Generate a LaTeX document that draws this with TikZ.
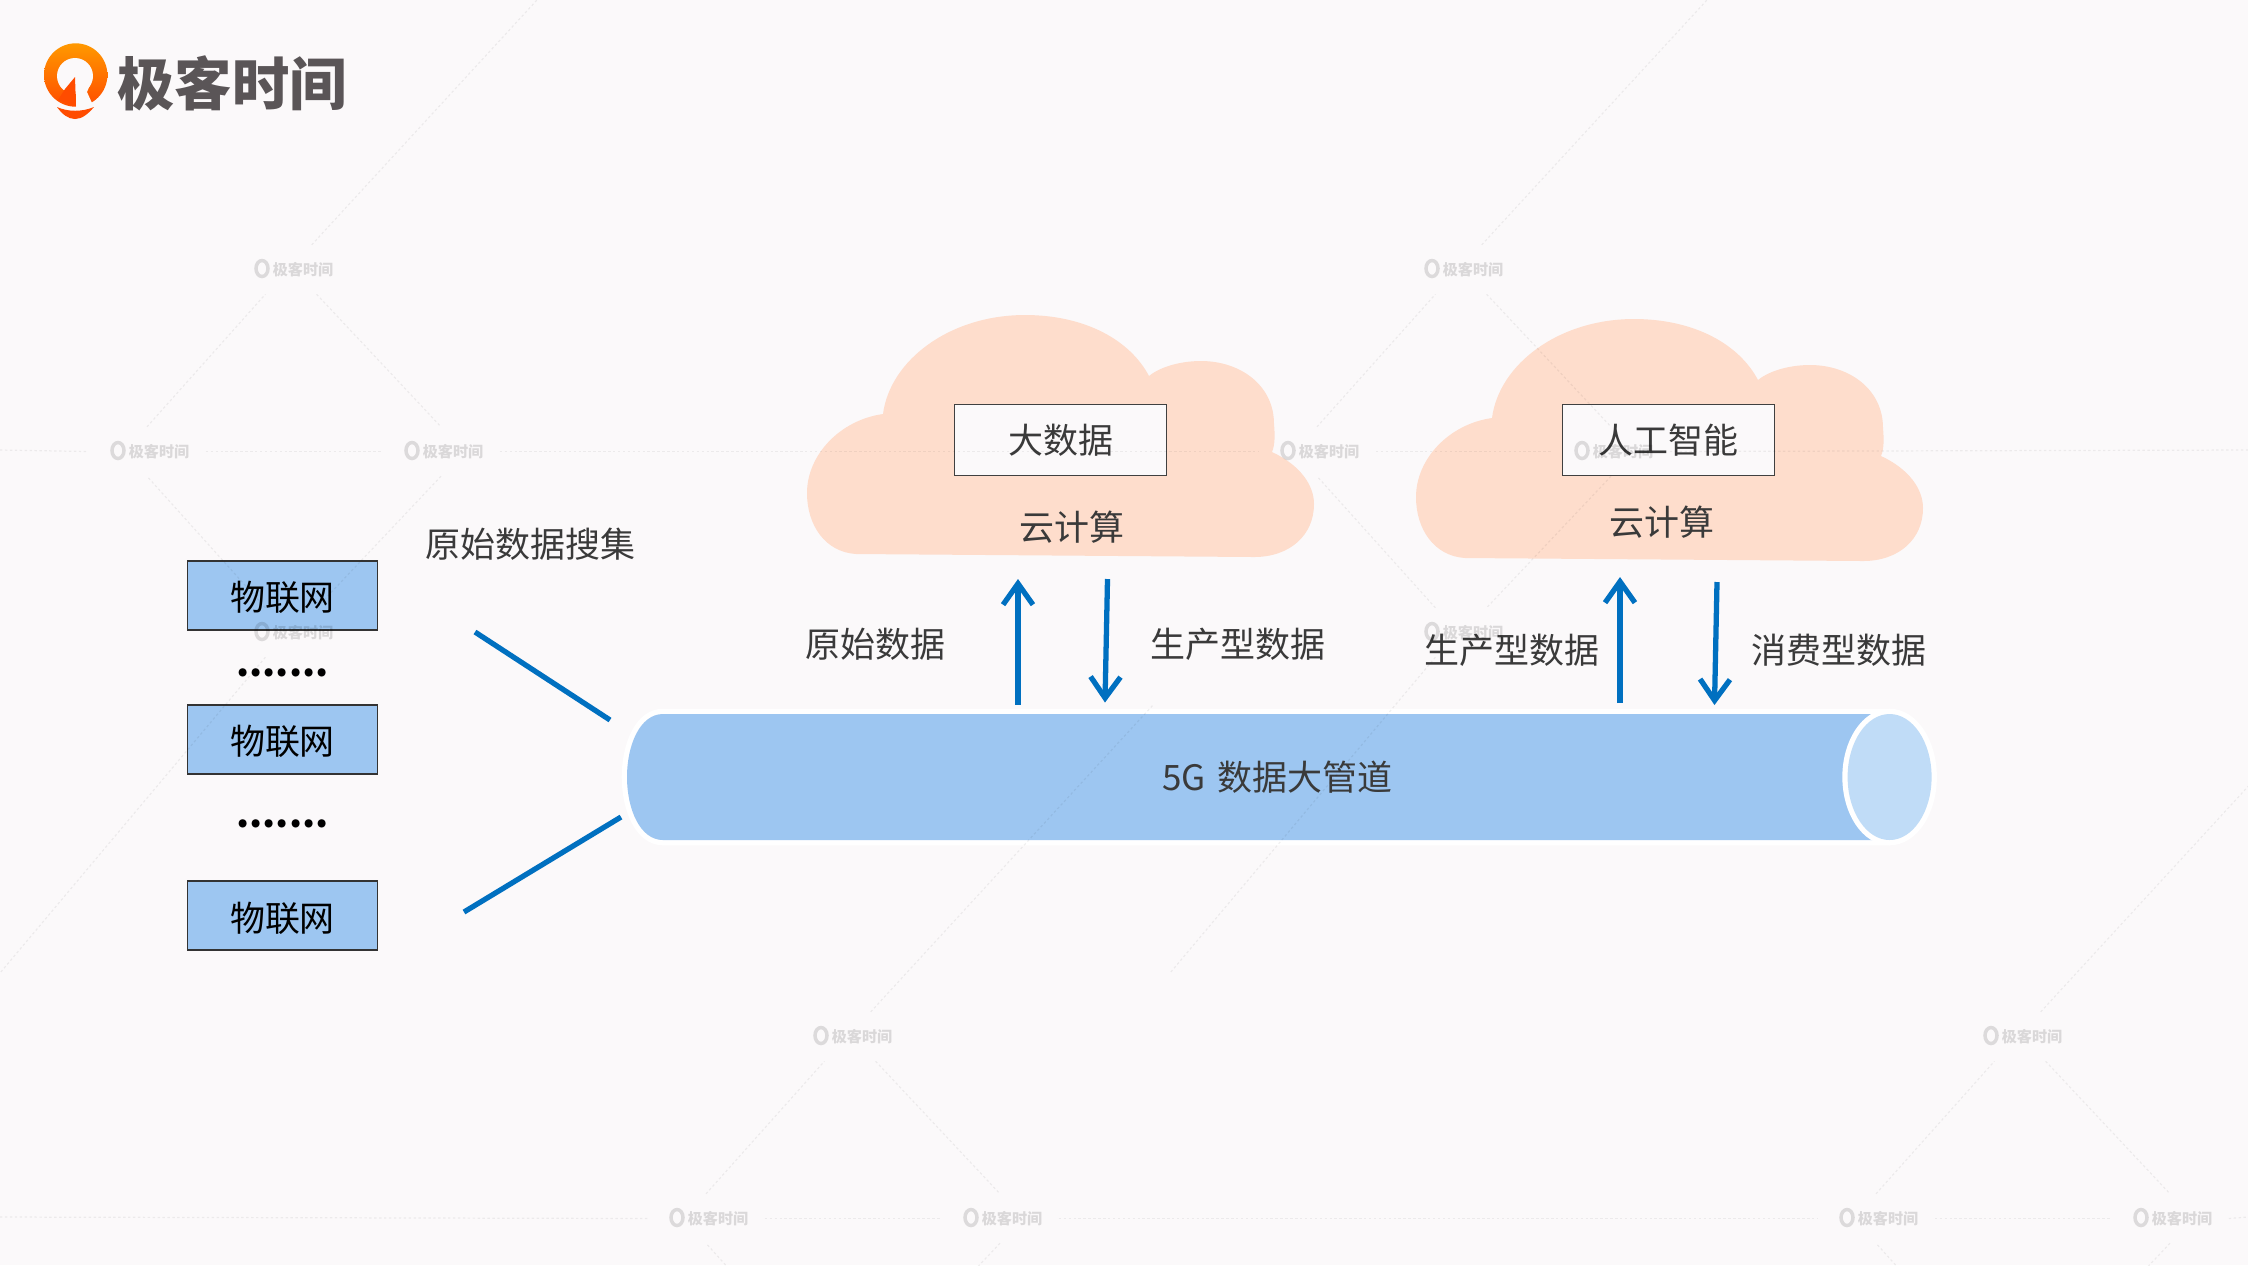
\documentclass[tikz,border=0pt]{standalone}
\usepackage{fontspec}
\setmainfont{Noto Sans CJK SC}
\usetikzlibrary{arrows.meta}
\definecolor{pagebg}{HTML}{FBF9FA}
\definecolor{tubeblue}{HTML}{9DC6F1}
\definecolor{tubeend}{HTML}{C0DCF7}
\definecolor{cloudfill}{HTML}{FEDDCC}
\definecolor{arrowblue}{HTML}{0070C0}
\definecolor{labelgray}{HTML}{3A3A3A}
\definecolor{logogray}{HTML}{5A5557}
\tikzset{
  lab/.style={text=labelgray,font=\fontsize{9.95}{10}\selectfont,inner sep=0pt},
  iotbox/.style={draw=black!80,line width=.4pt,fill=tubeblue,text=black,minimum width=1.9cm,minimum height=.69cm,inner sep=0pt,text height=10pt,text depth=1.2pt,font=\fontsize{9.95}{10}\selectfont},
  cloudbox/.style={draw=black!75,line width=.4pt,fill=pagebg,text=labelgray,minimum width=2.12cm,minimum height=.71cm,inner sep=0pt,font=\fontsize{9.95}{10}\selectfont},
  dotrow/.style={text=black,inner sep=0pt,anchor=base,font=\fontsize{10.7}{12}\selectfont\rmfamily\bfseries},
  tubeskin/.style={preaction={draw=white,line width=3pt}},
  flow/.style={arrowblue,line width=1.5pt},
  flowtip/.style={flow,-{Straight Barb[length=6pt,width=8.5pt]}},
  wmark/.style={text=black,text opacity=.13,minimum width=1.16cm,minimum height=.48cm,inner sep=0pt,font=\fontsize{4.3}{5}\selectfont\bfseries},
  wmline/.style={black,opacity=.06,line width=.35pt,dash pattern=on .7pt off .7pt},
  wmring/.style={black,opacity=.12,line width=1pt},
  cloudshape/.pic={
    \fill[cloudfill] (856,554) .. controls (825,552) and (807,525) .. (807,493)
      .. controls (807,455) and (840,420) .. (883,414)
      .. controls (890,360) and (950,315) .. (1025,315)
      .. controls (1085,315) and (1130,340) .. (1149,376)
      .. controls (1160,367) and (1180,361) .. (1201,361)
      .. controls (1240,361) and (1274,385) .. (1274,424)
      .. controls (1275,435) and (1275,445) .. (1272,452)
      .. controls (1300,465) and (1314,485) .. (1314,504)
      .. controls (1314,535) and (1290,557) .. (1254,557) -- cycle;
  }
}
\begin{document}
\begin{tikzpicture}[x=.01cm,y=-.01cm]
\useasboundingbox (0,0) rectangle (2248,1265);
\fill[pagebg] (0,0) rectangle (2248,1265);

\shade[top color=orange!80!yellow,bottom color=orange!60!red,shading angle=0] (75.7,75) circle[radius=31.7];
\fill[pagebg] (75,76) circle[radius=18];
\fill[pagebg] (76,77) -- (76,110) -- (86,110) -- (92,103) -- (87,92) -- (92,80) -- cycle;
\fill[orange!60!red] (65,89) -- (75,77) -- (76,106) -- (58,100) -- cycle;
\fill[orange!60!red] (57,107) .. controls (68,112) and (82,112) .. (94,107) .. controls (88,114) and (82,119) .. (75,119) .. controls (68,119) and (62,114) .. (57,107) -- cycle;
\node[text=logogray,inner sep=0pt,font=\fontsize{16.3}{17}\selectfont\bfseries] (brand) at (232,83) {极客时间};

\pic at (0,0) {cloudshape};
\pic at (609,4) {cloudshape};
\node[cloudbox] (bigdata) at (1060.5,440) {大数据};
\node[cloudbox] (aibox) at (1668.5,440) {人工智能};
\node[lab] (cloudone) at (1071.6,527.6) {云计算};
\node[lab] (cloudtwo) at (1662,522) {云计算};

\node[iotbox] (iot1) at (282.5,595.5) {物联网};
\node[iotbox] (iot2) at (282.5,739.5) {物联网};
\node[iotbox] (iot3) at (282.5,915.5) {物联网};
\node[dotrow] (dots1) at (282.5,676) {.......};
\node[dotrow] (dots2) at (282.5,827) {.......};
\node[lab] (collect) at (530.6,544) {原始数据搜集};

\fill[tubeblue,tubeskin] (663,714) -- (1885,714) -- (1885,840) -- (663,840)
  .. controls (640,840) and (627,809) .. (627,777) .. controls (627,745) and (640,714) .. (663,714) -- cycle;
\fill[tubeend,tubeskin] (1889.6,777) ellipse[x radius=42,y radius=63];
\node[lab] (pipe) at (1277.4,777) {5G\hspace{3.5pt}数据大管道};

\coordinate (in1a) at (475,632);
\coordinate (in1b) at (610,720);
\coordinate (in2a) at (464,912);
\coordinate (in2b) at (621,817);
\draw[flow] (in1a) -- (in1b);
\draw[flow] (in2a) -- (in2b);

\coordinate (up1a) at (1018,704.5);
\coordinate (up1b) at (1018,579);
\coordinate (dn1a) at (1107.5,579);
\coordinate (dn1b) at (1105,702.5);
\coordinate (up2a) at (1620,703);
\coordinate (up2b) at (1620,577);
\coordinate (dn2a) at (1717,582);
\coordinate (dn2b) at (1714.5,705);
\draw[flowtip] (up1a) -- (up1b);
\draw[flowtip] (dn1a) -- (dn1b);
\draw[flowtip] (up2a) -- (up2b);
\draw[flowtip] (dn2a) -- (dn2b);
\node[lab] (raw) at (875.7,644) {原始数据};
\node[lab] (prod1) at (1237.6,644.4) {生产型数据};
\node[lab] (prod2) at (1511.6,650) {生产型数据};
\node[lab] (cons) at (1839,650) {消费型数据};

\begin{scope}
\clip (0,0) rectangle (2248,1265);
\foreach \dx/\dy/\t/\lowtext in {0/0/a/极客时间,1170/0/b/极客时间,559/767/c/{},1729/767/d/{}} {
  \node[wmark] (\t-top) at ({291+\dx},{269.5+\dy}) {\hspace*{.24cm}极客时间};
  \node[wmark] (\t-left) at ({147+\dx},{451.5+\dy}) {\hspace*{.24cm}极客时间};
  \node[wmark] (\t-right) at ({441+\dx},{451.5+\dy}) {\hspace*{.24cm}极客时间};
  \node[wmark] (\t-low) at ({291+\dx},{632.5+\dy}) {\hspace*{.24cm}\lowtext};
  \coordinate (\t-up) at ({594+\dx},{-62+\dy});
  \coordinate (\t-down) at ({0+\dx},{973+\dy});
  \foreach \n in {top,left,right,low}
    \draw[wmring] (\t-\n.center) ++(-29,-1) ellipse[x radius=6,y radius=8];
  \draw[wmline] (\t-left.90) -- (\t-top.224);
  \draw[wmline] (\t-top.316) -- (\t-right.90);
  \draw[wmline] (\t-right.270) -- (\t-low.44);
  \draw[wmline] (\t-low.136) -- (\t-left.270);
  \draw[wmline] (\t-left.east) -- (\t-right.west);
  \draw[wmline] (\t-top.50) -- (\t-up);
  \draw[wmline] (\t-low.224) -- (\t-down);
}
\coordinate (row1a) at (0,450);
\coordinate (row1b) at (2248,450);
\coordinate (row2a) at (0,1217);
\coordinate (row2b) at (2248,1217);
\draw[wmline] (row1a) -- (a-left.west);
\draw[wmline] (a-right.east) -- (b-left.west);
\draw[wmline] (b-right.east) -- (row1b);
\draw[wmline] (row2a) -- (c-left.west);
\draw[wmline] (c-right.east) -- (d-left.west);
\draw[wmline] (d-right.east) -- (row2b);
\end{scope}
\end{tikzpicture}
\end{document}
